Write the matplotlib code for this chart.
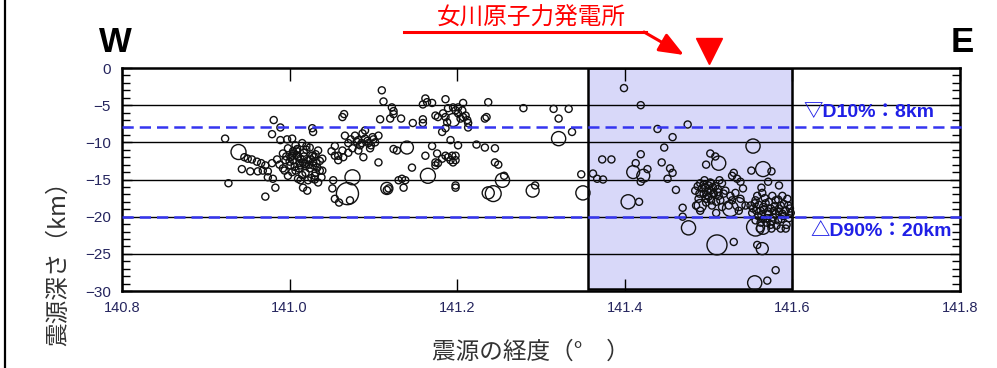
import numpy as np
import matplotlib
matplotlib.use("Agg")
import matplotlib.pyplot as plt
from matplotlib.patches import Rectangle
from matplotlib.lines import Line2D

plt.rcParams['font.family'] = ['Liberation Sans', 'Noto Sans CJK JP', 'DejaVu Sans']

# hypocentres (longitude in deg, depth in km, negative downward), small events
small_lon = [
    140.923, 140.946, 140.950, 140.955, 140.961, 140.966, 140.971, 140.943, 140.953, 140.962,
    140.968, 140.974, 140.979, 140.974, 140.980, 140.983, 140.971, 140.927, 140.981, 140.989,
    140.979, 140.989, 140.997, 141.003, 140.992, 140.998, 141.003, 141.008, 141.013, 141.017,
    141.022, 141.027, 141.032, 140.995, 141.001, 141.007, 141.013, 141.019, 141.024, 141.030,
    141.036, 140.998, 141.010, 141.022, 141.034, 141.007, 141.015, 141.024, 141.034, 141.039,
    140.992, 141.004, 141.016, 141.028, 141.013, 141.016, 141.030, 141.038, 141.027, 141.028,
    141.050, 141.054, 141.058, 141.052, 141.051, 141.054, 141.059, 141.039, 141.021,
    140.996, 141.000, 141.005, 141.010, 141.011, 141.018, 141.020, 141.025, 141.029, 141.033,
    141.003, 141.015, 141.026, 141.009, 141.020, 141.031, 141.036, 140.985, 140.988, 141.006,
    141.001, 141.012, 141.023, 141.017, 141.028, 140.994, 141.008, 141.031, 141.019, 141.004,
    141.110, 141.112, 141.122, 141.124, 141.120, 141.133, 141.124, 141.063, 141.065, 141.108,
    141.147, 141.159, 141.159, 141.162, 141.170, 141.159, 141.164, 141.186, 141.195, 141.198,
    141.189, 141.183, 141.177, 141.174, 141.186, 141.188, 141.186, 141.182, 141.192, 141.066,
    141.078, 141.082, 141.087, 141.090, 141.094, 141.099, 141.102, 141.084, 141.075, 141.070,
    141.096, 141.106, 141.090, 141.082, 141.063, 141.058, 141.054, 141.064, 141.070, 141.088,
    141.106, 141.128, 141.124, 141.146, 141.162, 141.174, 141.177, 141.174, 141.189, 141.194,
    141.192, 141.195, 141.186, 141.182, 141.176, 141.170, 141.118, 141.116, 141.130, 141.134,
    141.138, 141.136, 141.198, 141.072,
    141.080, 141.086, 141.093, 141.097, 141.073, 141.100,
    141.207, 141.201, 141.206, 141.201, 141.207, 141.212, 141.213, 141.213, 141.204, 141.210,
    141.237, 141.233, 141.235, 141.279, 141.315, 141.321, 141.333, 141.337, 141.201, 141.223,
    141.233, 141.245, 141.198, 141.198, 141.245, 141.249, 141.256, 141.348, 141.198, 141.293,
    141.399, 141.419, 141.439, 141.475, 141.457, 141.447, 141.419, 141.373, 141.384, 141.444,
    141.413, 141.454, 141.457, 141.362, 141.367, 141.374, 141.427, 141.419, 141.451, 141.461,
    141.417, 141.469, 141.469,
    141.502, 141.508, 141.497, 141.551, 141.575, 141.530, 141.528, 141.534, 141.538, 141.571,
    141.584, 141.563, 141.484, 141.490, 141.496, 141.502, 141.508, 141.494, 141.500, 141.506,
    141.512, 141.488, 141.497, 141.504, 141.514, 141.520, 141.524, 141.490, 141.509, 141.516,
    141.485, 141.526, 141.502, 141.495, 141.532, 141.538, 141.544, 141.536, 141.528, 141.541,
    141.492, 141.499, 141.505, 141.511, 141.497, 141.503, 141.509, 141.516, 141.489, 141.513,
    141.500, 141.518, 141.494, 141.506, 141.498, 141.511, 141.487, 141.503,
    141.550, 141.556, 141.562, 141.568, 141.574, 141.580, 141.586, 141.592, 141.559, 141.565,
    141.571, 141.577, 141.583, 141.589, 141.595, 141.552, 141.558, 141.564, 141.576, 141.588,
    141.594, 141.598, 141.569, 141.581, 141.593, 141.562, 141.574, 141.586, 141.556, 141.530,
    141.558, 141.580, 141.570,
    141.553, 141.560, 141.566, 141.572, 141.578, 141.584, 141.590, 141.563, 141.570, 141.580,
    141.587, 141.596, 141.557, 141.575, 141.567, 141.583, 141.592, 141.561,
    141.571, 141.579, 141.565, 141.588, 141.555, 141.576, 141.584, 141.597,
]
small_dep = [
    -9.5, -12.0, -12.2, -12.3, -12.6, -12.8, -13.1, -13.6, -13.9, -13.9,
    -13.8, -13.9, -12.8, -14.7, -14.9, -16.1, -17.3, -15.5, -7.0, -8.0,
    -8.9, -9.7, -9.6, -9.5, -11.5, -10.8, -11.8, -11.1, -12.2, -11.4,
    -12.4, -11.8, -12.8, -12.4, -13.1, -13.8, -13.1, -14.1, -13.5, -14.5,
    -13.8, -14.5, -14.9, -15.1, -15.4, -10.4, -10.1, -10.7, -11.1, -12.2,
    -13.5, -12.4, -12.7, -13.1, -15.1, -16.1, -15.0, -14.7, -8.1, -8.6,
    -11.2, -11.8, -12.4, -15.1, -16.2, -17.6, -18.1, -13.8, -16.5,
    -11.9, -12.6, -11.5, -12.0, -13.5, -12.9, -11.0, -12.3, -12.0, -13.4,
    -14.0, -14.4, -14.8, -10.9, -10.5, -11.6, -12.5, -12.3, -13.0, -13.3,
    -12.0, -12.8, -13.0, -11.9, -12.6, -13.8, -11.7, -14.1, -13.2, -11.2,
    -3.0, -4.5, -5.3, -5.8, -6.8, -6.8, -6.2, -6.6, -6.2, -6.9,
    -7.4, -6.9, -7.4, -4.1, -4.7, -4.9, -4.6, -4.2, -5.3, -5.7,
    -5.4, -6.1, -6.6, -6.4, -6.6, -7.3, -8.1, -8.6, -9.7, -9.1,
    -9.1, -9.7, -8.8, -9.5, -10.1, -9.3, -10.0, -10.4, -10.8, -10.1,
    -10.8, -9.1, -8.4, -11.1, -11.1, -11.8, -10.5, -12.0, -11.4, -12.0,
    -12.7, -11.1, -10.9, -13.4, -11.8, -12.7, -12.8, -13.1, -12.0, -11.8,
    -12.4, -12.7, -11.8, -12.2, -11.5, -10.5, -16.2, -16.4, -15.1, -14.9,
    -15.1, -16.1, -15.8, -17.8,
    -9.9, -10.1, -9.8, -10.4, -9.6, -9.6,
    -4.7, -5.3, -5.7, -6.1, -6.6, -7.0, -7.4, -8.0, -6.8, -6.4,
    -4.6, -6.8, -6.6, -5.4, -5.5, -6.8, -5.5, -8.6, -10.4, -10.3,
    -10.7, -10.8, -11.8, -12.4, -12.7, -13.0, -14.5, -14.3, -16.1, -15.8,
    -2.7, -5.0, -8.2, -7.6, -9.3, -10.7, -11.6, -12.3, -12.3, -12.7,
    -12.8, -13.5, -14.1, -14.2, -14.9, -15.0, -13.6, -15.3, -14.9, -16.4,
    -18.0, -18.8, -20.0,
    -11.5, -11.9, -13.0, -13.8, -13.9, -14.1, -14.5, -14.9, -15.3, -15.3,
    -15.8, -16.1, -16.5, -15.5, -16.1, -15.4, -15.9, -16.9, -17.3, -16.8,
    -17.2, -17.6, -18.1, -18.5, -17.8, -16.5, -18.5, -19.2, -19.5, -15.5,
    -18.5, -17.2, -16.5, -15.1, -16.8, -17.6, -18.5, -19.2, -17.8, -16.2,
    -16.2, -16.6, -16.0, -16.3, -17.6, -17.8, -18.0, -18.7, -16.9, -15.1,
    -15.8, -16.9, -15.7, -17.0, -17.1, -16.7, -15.9, -15.5,
    -18.5, -17.8, -19.2, -18.2, -18.9, -17.8, -18.5, -19.2, -19.9, -20.3,
    -19.6, -20.1, -20.5, -19.9, -18.5, -19.5, -17.2, -16.8, -17.2, -17.2,
    -17.6, -19.5, -20.8, -21.2, -21.1, -20.8, -21.1, -21.6, -20.5, -23.4,
    -23.8, -27.2, -28.6,
    -18.9, -18.4, -19.0, -18.0, -19.2, -18.9, -18.3, -19.8, -20.2, -19.6,
    -20.3, -20.2, -19.2, -21.6, -17.5, -17.7, -21.6, -21.6,
    -19.3, -18.6, -18.7, -19.6, -18.2, -20.6, -19.3, -18.9,
]

# larger events with their magnitudes
big_lon = [140.939, 141.140, 141.165, 141.075, 141.069, 141.116, 141.195, 141.321, 141.254, 141.243,
           141.237, 141.290, 141.350, 141.410, 141.422, 141.404, 141.476, 141.553, 141.512, 141.565,
           141.526, 141.556, 141.565, 141.510, 141.564, 141.555, 141.490, 141.536]
big_dep = [-11.3, -10.7, -14.5, -14.7, -16.9, -16.2, -7.0, -9.5, -15.1, -16.9,
           -16.8, -16.5, -16.8, -14.0, -14.5, -18.0, -21.5, -10.5, -12.8, -13.6,
           -18.9, -21.4, -21.5, -23.8, -24.3, -28.9, -18.5, -18.3]
big_mag = [3.9, 3.4, 3.9, 3.9, 5.6, 3.2, 3.4, 3.7, 3.7, 4.1,
           3.2, 3.4, 3.7, 3.4, 3.4, 3.7, 3.7, 3.7, 3.7, 3.9,
           4.1, 4.6, 3.4, 5.1, 3.2, 3.7, 3.2, 3.4]
small_mag = 2.0

# depth statistics and site
d10, d90 = 8, 20
site_lon = 141.50
box_lon = (141.356, 141.600)

fig = plt.figure(figsize=(9.97, 3.68), dpi=100)
ax = fig.add_axes([0.1224, 0.2092, 0.8405, 0.6060])


def mag_to_s(m):
    d = 3.0 * (np.asarray(m) - 0.3)
    return d ** 2


ax.add_patch(Rectangle((box_lon[0], -29.7), box_lon[1] - box_lon[0], 29.7,
                       facecolor='#d8d8f9', edgecolor='black', lw=1.8, zorder=1))
for yy in [-5, -10, -15, -20, -25]:
    ax.axhline(yy, color='black', lw=1.0, zorder=1.5)

ax.scatter(small_lon, small_dep, s=mag_to_s(small_mag), facecolors='none',
           edgecolors='#111111', linewidths=1.0, zorder=2.5)
ax.scatter(big_lon, big_dep, s=mag_to_s(big_mag), facecolors='none',
           edgecolors='#111111', linewidths=1.0, zorder=2.5)

for d in (d10, d90):
    ax.plot([140.8, 141.806], [-d, -d], color='#3535f0', lw=1.8,
            ls=(0, (4.5, 2.4)), zorder=3, clip_on=False)

ax.text(141.613, -6.0, '▽D10%：8km', color='#1f1fe6', fontsize=14, fontweight='bold',
        va='center', ha='left', zorder=5)
ax.text(141.621, -22.0, '△D90%：20km', color='#1f1fe6', fontsize=14, fontweight='bold',
        va='center', ha='left', zorder=5, clip_on=False)

ax.set_xlim(140.8, 141.8)
ax.set_ylim(-30, 0)
ax.set_xticks([140.8, 141.0, 141.2, 141.4, 141.6, 141.8])
ax.set_xticklabels(['140.8', '141.0', '141.2', '141.4', '141.6', '141.8'])
ax.set_yticks(np.arange(-30, 1, 5))
ax.set_yticks(np.arange(-30, 1, 1), minor=True)
ax.tick_params(axis='x', which='major', direction='in', top=True, length=9, width=1,
               labelsize=10.5, labelcolor='#25255e', pad=7)
ax.tick_params(axis='y', which='major', direction='in', right=True, length=7, width=1,
               labelsize=11, labelcolor='#25255e', pad=8)
ax.tick_params(axis='y', which='minor', direction='in', right=True, length=6, width=1)
for sp in ax.spines.values():
    sp.set_linewidth(1.8)

ax.set_ylabel('震源深さ（km）', fontsize=17, family=['Noto Sans CJK JP'], color='#333333')
ax.yaxis.set_label_coords(-0.062, 0.15)
fig.text(0.532, 0.043, '震源の経度（°\u3000）', fontsize=17, family=['Noto Sans CJK JP'],
         color='#333333', ha='center', va='center')

# direction labels
fig.text(115 / 997, 1 - 43 / 368, 'W', fontsize=25, fontweight='bold', ha='center', va='center')
fig.text(962 / 997, 1 - 43 / 368, 'E', fontsize=25, fontweight='bold', ha='center', va='center')

# power station marker with pointer
ax.plot([site_lon], [2.3], marker='v', ms=19, color='red', clip_on=False, zorder=6)
fig.text(531 / 997, 1 - 18 / 368, '女川原子力発電所', fontsize=17, color='red',
         family=['Noto Sans CJK JP'], ha='center', va='center')
fig.add_artist(Line2D([404 / 997, 646 / 997], [1 - 32 / 368, 1 - 32 / 368],
                      color='red', lw=2.2, transform=fig.transFigure))
ax.annotate('', xy=(684 / 997, 1 - 55 / 368), xycoords='figure fraction',
            xytext=(644 / 997, 1 - 32 / 368), textcoords='figure fraction',
            arrowprops=dict(arrowstyle='-|>,head_length=1.5,head_width=0.6',
                            color='red', lw=2.2, shrinkA=0, shrinkB=0))

# frame line at left edge
fig.add_artist(Line2D([5 / 997, 5 / 997], [0, 1], color='black', lw=1.6,
                      transform=fig.transFigure))

fig.savefig('out.png', dpi=100)
